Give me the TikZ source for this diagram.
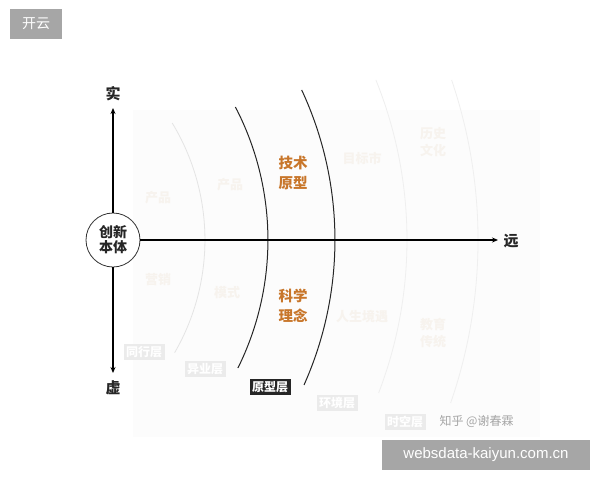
\documentclass[tikz,border=0pt]{standalone}
\usepackage{fontspec}
\setmainfont{Liberation Sans}
\newfontfamily\cjk{Noto Sans CJK SC}
\usetikzlibrary{arrows.meta}
\definecolor{orangetxt}{HTML}{C8762A}
\definecolor{faintline}{HTML}{E4E4E4}
\definecolor{fainterline}{HTML}{EFEFEF}
\definecolor{fainttxt}{HTML}{F7F3EE}
\definecolor{tagbg}{HTML}{EBEBEB}
\definecolor{wmgray}{HTML}{A6A6A6}
\tikzset{
  axis/.style={line width=1.4pt, -{Stealth[length=6pt,width=5pt]}},
  darkarc/.style={line width=1pt, draw=black!85},
  palearc/.style={line width=0.8pt, draw=faintline},
  palerarc/.style={line width=0.8pt, draw=fainterline},
  axislabel/.style={font=\cjk\bfseries\fontsize{15}{17}\selectfont, text=black!85},
  orangelabel/.style={font=\cjk\bfseries\fontsize{14.5}{20}\selectfont, text=orangetxt, align=center},
  faintlabel/.style={font=\cjk\bfseries\fontsize{13}{17}\selectfont, text=fainttxt, align=center},
  tag/.style={font=\cjk\bfseries\fontsize{12}{13}\selectfont, fill=tagbg, text=white, inner sep=2.5pt},
  darktag/.style={font=\cjk\bfseries\fontsize{12}{13}\selectfont, fill=black!85, text=white, inner sep=2.5pt},
}
\begin{document}
\begin{tikzpicture}[x=1pt,y=-1pt]
\useasboundingbox (0,0) rectangle (600,480);
\fill[white] (0,0) rectangle (600,480);
% faint background panel
\fill[gray!2] (133,110) rectangle (540,437);
% top-left badge
\node[fill=wmgray, text=white, font=\cjk\fontsize{14}{16}\selectfont, minimum width=52pt, minimum height=30pt, inner sep=0pt] (badge) at (36,24) {开云};
% arcs centred at (-20,240)
\draw[palearc] (172.2,123) arc[start angle=-31.3, end angle=30.1, radius=225];
\draw[darkarc] (235.4,107) arc[start angle=-27.5, end angle=26.4, radius=288];
\draw[darkarc] (301.7,90) arc[start angle=-25.0, end angle=24.1, radius=355];
\draw[palerarc] (375.9,80) arc[start angle=-22.0, end angle=21.0, radius=427];
\draw[palerarc] (451.6,80) arc[start angle=-18.75, end angle=19.1, radius=498];
% centre circle and axes
\node[draw=black!80, line width=0.8pt, circle, fill=white, minimum size=54pt, inner sep=0pt, align=center, font=\cjk\bfseries\fontsize{14}{15}\selectfont, text=black!85] (core) at (113,240) {创新\\本体};
\coordinate (top) at (113,108);
\coordinate (bot) at (113,373);
\coordinate (right) at (498,240);
\draw[axis] (core.north) -- (top);
\draw[axis] (core.south) -- (bot);
\draw[axis] (core.east) -- (right);
\node[axislabel] (shi) at (113,94) {实};
\node[axislabel] (xu) at (113,388) {虚};
\node[axislabel] (yuan) at (511,241) {远};
% orange labels
\node[orangelabel] (tech) at (293,173) {技术\\原型};
\node[orangelabel] (sci) at (293,306) {科学\\理念};
% faint labels
\node[faintlabel] (f1) at (158,198) {产品};
\node[faintlabel] (f2) at (230,185) {产品};
\node[faintlabel] (f3) at (158,280) {营销};
\node[faintlabel] (f4) at (227,293) {模式};
\node[faintlabel] (f5) at (362,158) {目标市};
\node[faintlabel] (f6) at (433,142) {历史\\文化};
\node[faintlabel] (f7) at (362,317) {人生境遇};
\node[faintlabel] (f8) at (433,333) {教育\\传统};
% layer tags
\node[tag] (t1) at (144,352) {同行层};
\node[tag] (t2) at (205,369) {异业层};
\node[darktag] (t3) at (270,387) {原型层};
\node[tag] (t4) at (337,403) {环境层};
\node[tag] (t5) at (405,422) {时空层};
\node[font=\cjk\fontsize{12}{14}\selectfont, text=gray!70, anchor=west] (zh) at (436,421) {知乎 @谢春霖};
% bottom watermark
\node[fill=wmgray, text=white, font=\fontsize{15}{17}\selectfont, minimum width=208pt, minimum height=30pt, inner sep=0pt] (wm) at (486,455) {websdata-kaiyun.com.cn};
\end{tikzpicture}
\end{document}
